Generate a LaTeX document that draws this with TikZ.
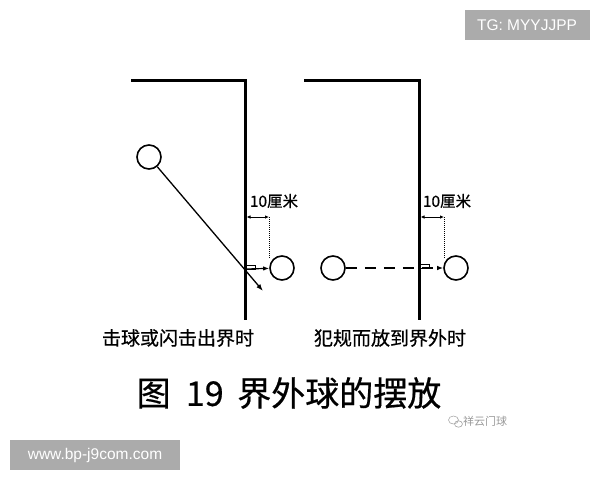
\documentclass[tikz,border=0pt]{standalone}
\usepackage{fontspec}
\setmainfont{Noto Sans CJK SC}
\newfontfamily\heavyfont[FakeBold=0.6]{Noto Sans CJK SC}
\newfontfamily\tagfont{Liberation Sans}
\usetikzlibrary{positioning}
\usetikzlibrary{arrows.meta}
\usetikzlibrary{calc}

\begin{document}
\begin{tikzpicture}[
		x=1pt, y=-1pt,
		% Style definitions
		court/.style={line width=3pt, line cap=rect},
		ball/.style={circle, draw, line width=1.6pt, minimum size=24pt, inner sep=0pt},
		track/.style={-{Latex[length=7pt, width=5pt]}, line width=1.3pt},
		moveto/.style={-{Latex[length=6pt, width=4.5pt]}, line width=1.2pt},
		measure/.style={{Latex[length=4pt, width=3.5pt]}-{Latex[length=4pt, width=3.5pt]}, line width=0.9pt},
		guide/.style={densely dotted, line width=1pt},
		corner/.style={line width=0.8pt},
		dist/.style={font=\heavyfont\fontsize{15.5}{15.5}\selectfont},
		caption/.style={font=\heavyfont\fontsize{19}{19}\selectfont},
		title/.style={font=\heavyfont\fontsize{34}{34}\selectfont},
		tagbox/.style={fill=black!33, text=white, font=\tagfont\fontsize{15.5}{15.5}\selectfont, inner sep=0pt},
		]
		\useasboundingbox (0,0) rectangle (600,480);

		% === LEFT COURT: hit out of bounds ===
		\coordinate (l-start) at (132,80);
		\coordinate (l-corner) at (245,80);
		\coordinate (l-end) at (245,318);
		\draw[court] (l-start) -- (l-corner) -- (l-end);

		\node[ball] (hit) at (149,157) {};
		\node[ball] (l-placed) at (282,268) {};
		\coordinate (l-exit) at (263,291);
		\coordinate (l-cross) at (246,269);
		\coordinate (l-dim) at (269,217);

		\draw[track] (hit) -- (l-exit);
		\draw[moveto] (l-cross) -- (l-placed);
		\draw[corner] (l-cross) rectangle ++(9,-4);
		\draw[measure] (l-dim -| l-end) ++(1.5,0) -- (l-dim);
		\draw[guide] (l-dim) -- (l-dim |- l-placed.north west);
		\node[dist] (l-ten) at (274,201) {10厘米};
		\node[caption] (l-text) at (178,338) {击球或闪击出界时};

		% === RIGHT COURT: placed out after a foul ===
		\coordinate (r-start) at (305,80);
		\coordinate (r-corner) at (419,80);
		\coordinate (r-end) at (419,318);
		\draw[court] (r-start) -- (r-corner) -- (r-end);

		\node[ball] (foul) at (333,268) {};
		\node[ball] (r-placed) at (456,268) {};
		\coordinate (r-cross) at (420,268);
		\coordinate (r-dim) at (444,217);

		\draw[moveto, dash pattern=on 11pt off 8pt] (foul) -- (r-placed);
		\draw[corner] (r-cross) rectangle ++(9,-4);
		\draw[measure] (r-dim -| r-end) ++(1.5,0) -- (r-dim);
		\draw[guide] (r-dim) -- (r-dim |- r-placed.north west);
		\node[dist] (r-ten) at (447,201) {10厘米};
		\node[caption] (r-text) at (390,338) {犯规而放到界外时};

		% === Figure title ===
		\node[title] (fig) at (289,393) {图\hspace{0.45em}19\hspace{0.4em}界外球的摆放};
		\node[font=\fontsize{11}{11}\selectfont, text=black!40] (logo) at (485,421) {祥云门球};
		\draw[black!35, line width=0.6pt] ($(logo.west)+(-6,-1)$) ellipse (5pt and 4pt);
		\draw[black!35, line width=0.6pt] ($(logo.west)+(-1,3)$) ellipse (4pt and 3.2pt);

		% === Tags ===
		\node[tagbox, minimum width=125pt, minimum height=30pt] (tg) at (527,25) {TG: MYYJJPP};
		\node[tagbox, minimum width=170pt, minimum height=30pt] (site) at (95,455) {www.bp-j9com.com};
	\end{tikzpicture}
\end{document}
